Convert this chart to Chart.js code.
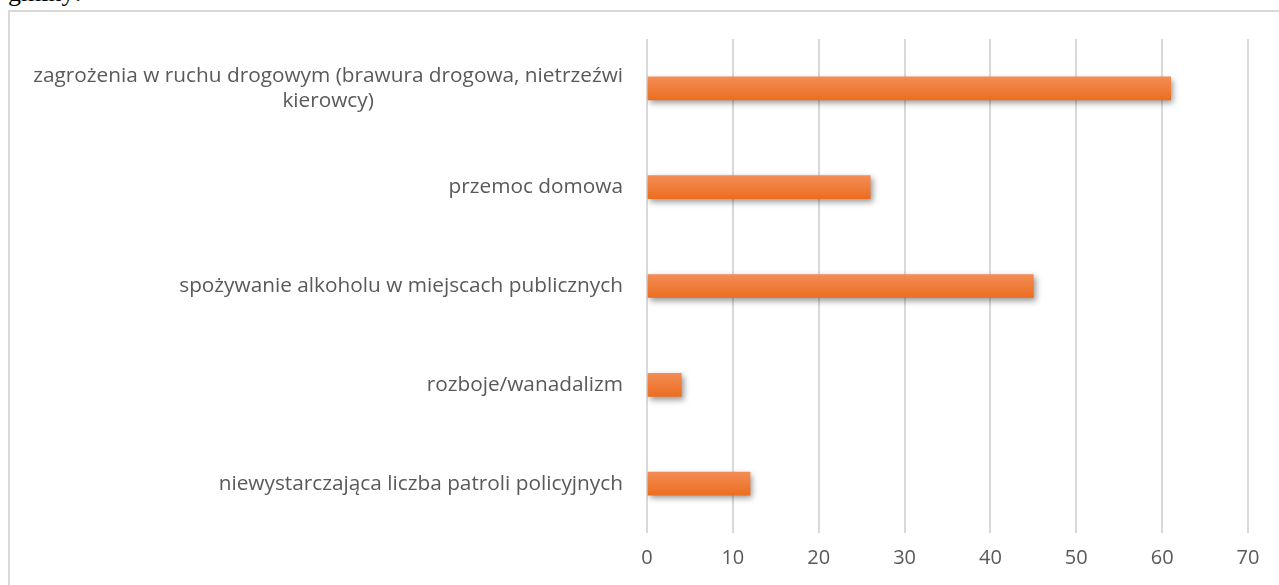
<!doctype html>
<html lang="pl">
<head>
<meta charset="utf-8">
<title>Zagrożenia</title>
<style>
  body { margin: 0; overflow: hidden; background: #fff; }
  .intro { position: absolute; left: 8px; top: -22px; font: 26px "Liberation Serif", serif; color: #000; }
  .frame { position: absolute; left: 8px; top: 10px; width: 1300px; height: 600px; border: 2px solid #d9d9d9; }
  .wrap { position: absolute; left: 0; top: 0; width: 1279px; height: 585px; }
</style>
</head>
<body>
<div class="intro">gminy:</div>
<div class="frame"></div>
<div class="wrap"><canvas id="chart"></canvas></div>

<script src="https://cdn.jsdelivr.net/npm/chart.js@4.4.2/dist/chart.umd.min.js"></script>
<script>
  const categories = [
    ['zagrożenia w ruchu drogowym (brawura drogowa, nietrzeźwi', 'kierowcy)'],
    'przemoc domowa',
    'spożywanie alkoholu w miejscach publicznych',
    'rozboje/wanadalizm',
    'niewystarczająca liczba patroli policyjnych'
  ];
  const values = [61, 26, 45, 4, 12];
  const xTicks = [0, 10, 20, 30, 40, 50, 60, 70];

  const FONT = '"Open Sans"';
  const TEXT = '#595959';

  // bar gradient, light on top
  function barFill(c) {
    const chart = c.chart;
    const y = chart.scales.y;
    if (!y || c.dataIndex === undefined) return '#ED7D31';
    const yc = y.getPixelForValue(c.dataIndex);
    if (!isFinite(yc)) return '#ED7D31';
    const g = chart.ctx.createLinearGradient(0, yc - 12, 0, yc + 12);
    g.addColorStop(0, '#F48D56');
    g.addColorStop(1, '#EB6D1F');
    return g;
  }

  const shadow = {
    id: 'shadow',
    beforeDatasetsDraw(chart) {
      const ctx = chart.ctx;
      ctx.save();
      ctx.shadowColor = 'rgba(0,0,0,0.4)';
      ctx.shadowBlur = 6;
      ctx.shadowOffsetX = 2;
      ctx.shadowOffsetY = 3;
    },
    afterDatasetsDraw(chart) {
      chart.ctx.restore();
    }
  };

  // category labels, each block right-aligned, lines centred within it
  const catLabels = {
    id: 'catLabels',
    afterDraw(chart) {
      const ctx = chart.ctx;
      const y = chart.scales.y;
      const right = chart.chartArea.left - 24;
      const lineH = 25;
      ctx.save();
      ctx.font = '20.8px ' + FONT;
      ctx.fillStyle = TEXT;
      ctx.textBaseline = 'middle';
      ctx.textAlign = 'center';
      categories.forEach((lab, i) => {
        const lines = Array.isArray(lab) ? lab : [lab];
        const w = Math.max(...lines.map(l => ctx.measureText(l).width));
        const cx = right - w / 2;
        const yc = y.getPixelForValue(i);
        lines.forEach((l, j) => {
          ctx.fillText(l, cx, yc + (j - (lines.length - 1) / 2) * lineH);
        });
      });
      ctx.restore();
    }
  };

  const chart = new Chart(document.getElementById('chart'), {
    type: 'bar',
    data: {
      labels: categories,
      datasets: [{
        data: values,
        backgroundColor: barFill,
        borderWidth: 0,
        barThickness: 23
      }]
    },
    options: {
      indexAxis: 'y',
      responsive: true,
      maintainAspectRatio: false,
      animation: false,
      layout: { padding: { left: 647, right: 31, top: 39, bottom: 2 } },
      plugins: {
        legend: { display: false },
        tooltip: { enabled: false }
      },
      scales: {
        x: {
          min: 0,
          max: 70,
          afterBuildTicks(scale) { scale.ticks = xTicks.map(v => ({ value: v })); },
          grid: { color: '#d9d9d9', lineWidth: 2, drawTicks: false },
          border: { display: false },
          ticks: { color: TEXT, font: { family: FONT, size: 20 }, padding: 13 }
        },
        y: {
          display: false
        }
      }
    },
    plugins: [shadow, catLabels]
  });
  // second pass so the gradients see the laid-out scale
  chart.update();
</script>
</body>
</html>
